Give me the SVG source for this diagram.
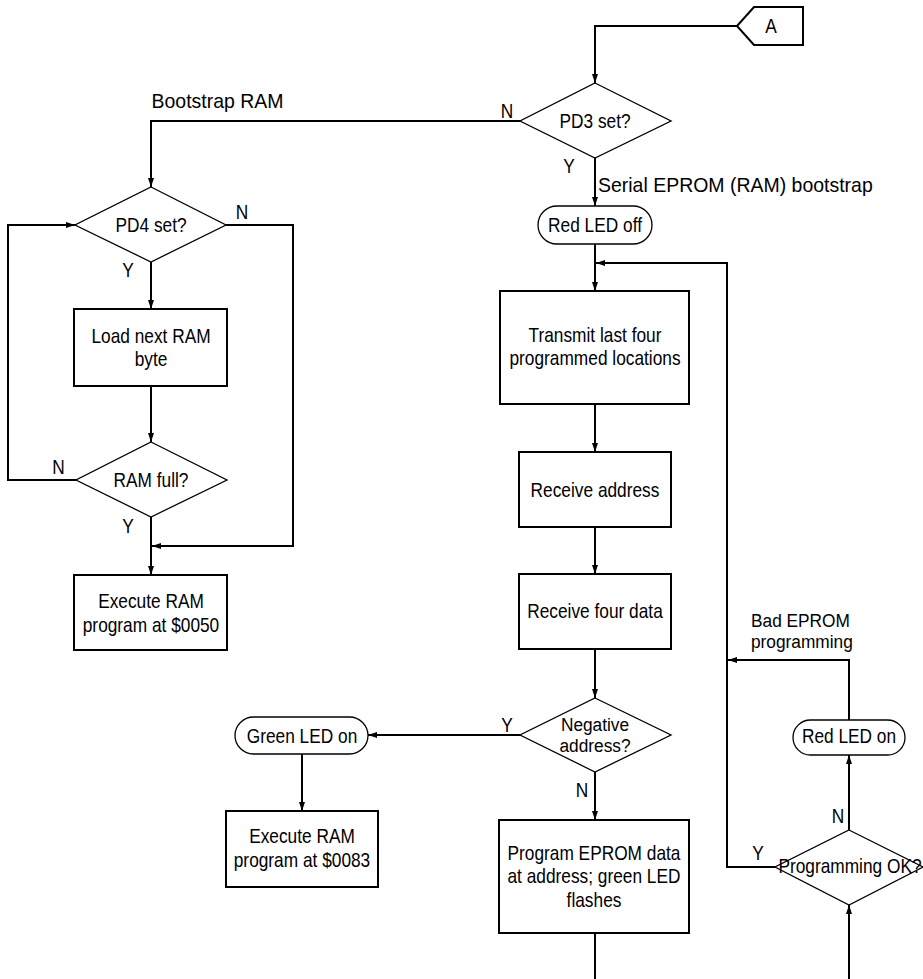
<svg xmlns="http://www.w3.org/2000/svg" width="923" height="979" viewBox="0 0 923 979">
<style>
.t{font-family:"Liberation Sans",Arial,sans-serif;font-size:20px;fill:#000;text-anchor:middle}
.s{text-anchor:start}
.sm{font-size:19px}
.lb{font-family:"Liberation Sans",Arial,sans-serif;font-size:20.5px;fill:#000}
.box{fill:#fff;stroke:#000;stroke-width:2}
.dia{fill:#fff;stroke:#000;stroke-width:1.3}
.term{fill:#fff;stroke:#000;stroke-width:1.3}
.c{fill:none;stroke:#000;stroke-width:2}
.ca{fill:none;stroke:#000;stroke-width:2;marker-end:url(#ah)}
</style>
<defs>
<marker id="ah" markerUnits="userSpaceOnUse" markerWidth="10" markerHeight="6" refX="9" refY="3" orient="auto">
<path d="M0,0 L9,3 L0,6 z" fill="#000"/>
</marker>
</defs>
<rect width="923" height="979" fill="#fff"/>
<g id="connectors">
<path class="ca" d="M737,26 H595 V83"/>
<path class="ca" d="M520,121 H151 V187"/>
<path class="ca" d="M595,158 V206"/>
<path class="ca" d="M595,244 V291"/>
<path class="ca" d="M151,262 V309"/>
<path class="ca" d="M151,386 V442"/>
<path class="ca" d="M76,480 H8 V225 H75"/>
<path class="ca" d="M226,225 H293 V546 H152"/>
<path class="ca" d="M151,517 V575"/>
<path class="ca" d="M595,404 V452"/>
<path class="ca" d="M595,527 V574"/>
<path class="ca" d="M595,649 V698"/>
<path class="ca" d="M520,735 H368"/>
<path class="ca" d="M302,754 V811"/>
<path class="ca" d="M595,772 V820"/>
<path class="c" d="M595,933 V979"/>
<path class="ca" d="M849,979 V905"/>
<path class="ca" d="M849,830 V755"/>
<path class="ca" d="M849,720 V660 H728"/>
<path class="ca" d="M775,867 H727 V263 H596"/>
</g>
<g id="labels">
<text class="lb" transform="translate(151.5,108) scale(0.95,1)">Bootstrap RAM</text>
<text class="lb" transform="translate(598,191.5) scale(0.95,1)">Serial EPROM (RAM) bootstrap</text>
<text class="t s sm" transform="translate(751,627) scale(0.91,1)">Bad EPROM</text>
<text class="t s sm" transform="translate(751,648) scale(0.91,1)">programming</text>
<text class="t" transform="translate(507,118) scale(0.865,1)">N</text>
<text class="t" transform="translate(569,173) scale(0.865,1)">Y</text>
<text class="t" transform="translate(242,219) scale(0.865,1)">N</text>
<text class="t" transform="translate(128,277) scale(0.865,1)">Y</text>
<text class="t" transform="translate(58.5,474) scale(0.865,1)">N</text>
<text class="t" transform="translate(128,533) scale(0.865,1)">Y</text>
<text class="t" transform="translate(507,732) scale(0.865,1)">Y</text>
<text class="t" transform="translate(582,797) scale(0.865,1)">N</text>
<text class="t" transform="translate(838,823) scale(0.865,1)">N</text>
<text class="t" transform="translate(758,860) scale(0.865,1)">Y</text>
</g>
<g id="connA">
<path class="box" d="M737,26 L754,7 H803 V45 H754 Z"/>
<text class="t" transform="translate(771,33) scale(0.865,1)">A</text>
</g>
<g id="pd3">
<path class="dia" d="M595,83 L671,121 L595,158 L520,121 Z"/>
<text class="t" transform="translate(595,128) scale(0.865,1)">PD3 set?</text>
</g>
<g id="redoff">
<rect class="term" x="538" y="206" width="114" height="38" rx="19"/>
<text class="t" transform="translate(595,232) scale(0.865,1)">Red LED off</text>
</g>
<g id="pd4">
<path class="dia" d="M151,187 L226,225 L151,262 L75,225 Z"/>
<text class="t" transform="translate(151,232) scale(0.865,1)">PD4 set?</text>
</g>
<g id="load">
<rect class="box" x="74" y="309" width="153" height="77"/>
<text class="t" transform="translate(151,343) scale(0.865,1)">Load next RAM</text>
<text class="t" transform="translate(151,366) scale(0.865,1)">byte</text>
</g>
<g id="ramfull">
<path class="dia" d="M151,442 L227,480 L151,517 L76,480 Z"/>
<text class="t" transform="translate(151,487) scale(0.865,1)">RAM full?</text>
</g>
<g id="exec50">
<rect class="box" x="74" y="575" width="153" height="75"/>
<text class="t" transform="translate(151,608) scale(0.865,1)">Execute RAM</text>
<text class="t" transform="translate(151,632) scale(0.865,1)">program at $0050</text>
</g>
<g id="transmit">
<rect class="box" x="500" y="291" width="189" height="113"/>
<text class="t" transform="translate(595,342) scale(0.865,1)">Transmit last four</text>
<text class="t" transform="translate(595,365) scale(0.865,1)">programmed locations</text>
</g>
<g id="recvaddr">
<rect class="box" x="519" y="452" width="152" height="75"/>
<text class="t" transform="translate(595,497) scale(0.865,1)">Receive address</text>
</g>
<g id="recvdata">
<rect class="box" x="519" y="574" width="152" height="75"/>
<text class="t" transform="translate(595,618) scale(0.865,1)">Receive four data</text>
</g>
<g id="negative">
<path class="dia" d="M595,698 L671,735 L595,772 L520,735 Z"/>
<text class="t sm" transform="translate(595,730.5) scale(0.91,1)">Negative</text>
<text class="t sm" transform="translate(595,752) scale(0.91,1)">address?</text>
</g>
<g id="greenon">
<rect class="term" x="235" y="717" width="133" height="37" rx="18.5"/>
<text class="t" transform="translate(302,743) scale(0.865,1)">Green LED on</text>
</g>
<g id="exec83">
<rect class="box" x="226" y="811" width="152" height="76"/>
<text class="t" transform="translate(302,843) scale(0.865,1)">Execute RAM</text>
<text class="t" transform="translate(302,867) scale(0.865,1)">program at $0083</text>
</g>
<g id="program">
<rect class="box" x="499" y="820" width="190" height="113"/>
<text class="t" transform="translate(594,860) scale(0.865,1)">Program EPROM data</text>
<text class="t" transform="translate(594,883) scale(0.865,1)">at address; green LED</text>
<text class="t" transform="translate(594,907) scale(0.865,1)">flashes</text>
</g>
<g id="redon">
<rect class="term" x="793" y="720" width="112" height="35" rx="17.5"/>
<text class="t" transform="translate(849,743) scale(0.865,1)">Red LED on</text>
</g>
<g id="progok">
<path class="dia" d="M849,830 L923,867 L849,905 L775,867 Z"/>
<text class="t" transform="translate(850,873) scale(0.865,1)">Programming OK?</text>
</g>
</svg>
